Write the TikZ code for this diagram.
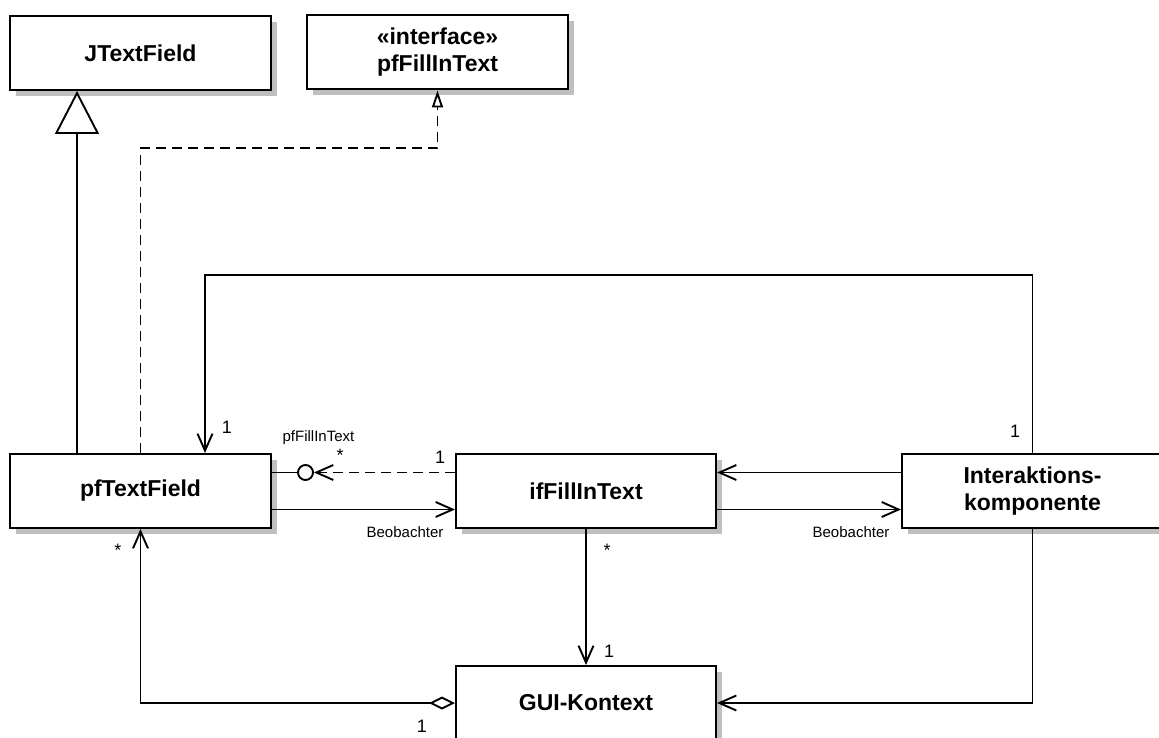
\documentclass[tikz,border=0pt]{standalone}
\usepackage{fontspec}
\setmainfont{Liberation Sans}
\usetikzlibrary{arrows.meta,shadows}
\begin{document}
\begin{tikzpicture}[x=1pt,y=-1pt,
  classbox/.style={draw, line width=2pt, fill=white, minimum width=261, minimum height=74,
    inner sep=0pt, align=center, font=\fontsize{23}{27}\selectfont\bfseries,
    drop shadow={shadow xshift=6pt, shadow yshift=-6pt, fill=black!25, opacity=1}},
  ball/.style={draw, line width=1.9pt, fill=white, circle, minimum size=15, inner sep=0pt},
  conn/.style={line width=1.9pt},
  assoc/.style={conn, -{Straight Barb[length=17pt,width=15pt]}},
  gen/.style={conn, -{Triangle[open,length=43pt,width=44pt]}},
  real/.style={conn, dash pattern=on 10pt off 6pt, -{Triangle[open,length=17pt,width=11pt]}},
  reqline/.style={conn, dash pattern=on 10pt off 6pt, -{Straight Barb[length=17pt,width=15pt]}},
  aggr/.style={conn, {Diamond[open,length=26pt,width=13pt]}-{Straight Barb[length=17pt,width=15pt]}},
  mult/.style={anchor=base, inner sep=0pt, font=\fontsize{18}{18}\selectfont},
  role/.style={anchor=base, inner sep=0pt, font=\fontsize{15}{15}\selectfont}]
\useasboundingbox (0,0) rectangle (1159,738);

% classes
\node[classbox] (jtf) at (140.5,53) {JTextField};
\node[classbox] (iface) at (437.5,52.5) {«interface»\\pfFillInText};
\node[classbox] (pf) at (140.5,491) {pfTextField};
\node[classbox, minimum width=260] (iff) at (586,491) {ifFillInText};
\node[classbox] (inter) at (1032.5,491) {Interaktions-\\komponente};
\node[classbox, minimum width=260] (gui) at (586,703) {GUI-Kontext};

% provided interface ball
\node[ball] (sock) at (305.5,472.5) {};

% generalization and realization
\draw[gen] ([xshift=-63.5pt]pf.north) -- ([xshift=-63.5pt]jtf.south);
\draw[real] (pf.north) -- ++(0,-305) -| (iface.south);

% association from Interaktionskomponente back to pfTextField
\draw[assoc] (inter.north) -- ++(0,-178) -| ([xshift=64.5pt]pf.north);

% interface usage
\draw[conn] ([yshift=18.5pt]pf.east) -- (sock);
\draw[reqline] ([yshift=18.5pt]iff.west) -- (sock);

% observer links
\draw[assoc] ([yshift=-18.5pt]pf.east) -- ([yshift=-18.5pt]iff.west);
\draw[assoc] ([yshift=18.5pt]inter.west) -- ([yshift=18.5pt]iff.east);
\draw[assoc] ([yshift=-18.5pt]iff.east) -- ([yshift=-18.5pt]inter.west);

% links to GUI-Kontext
\draw[assoc] (iff.south) -- (gui.north);
\draw[aggr] (gui.west) -| (pf.south);
\draw[assoc] (inter.south) |- (gui.east);

% role names and multiplicities
\node[role] (rifc) at (318.5,441) {pfFillInText};
\node[role] (rb1) at (405,537) {Beobachter};
\node[role] (rb2) at (851,537) {Beobachter};
\node[mult] (m1) at (227,433) {1};
\node[mult] (m2) at (1015,437) {1};
\node[mult] (m3) at (340,461) {*};
\node[mult] (m4) at (440,463) {1};
\node[mult] (m5) at (118,556) {*};
\node[mult] (m6) at (607,556) {*};
\node[mult] (m7) at (609,657) {1};
\node[mult] (m8) at (422,732) {1};
\end{tikzpicture}
\end{document}
